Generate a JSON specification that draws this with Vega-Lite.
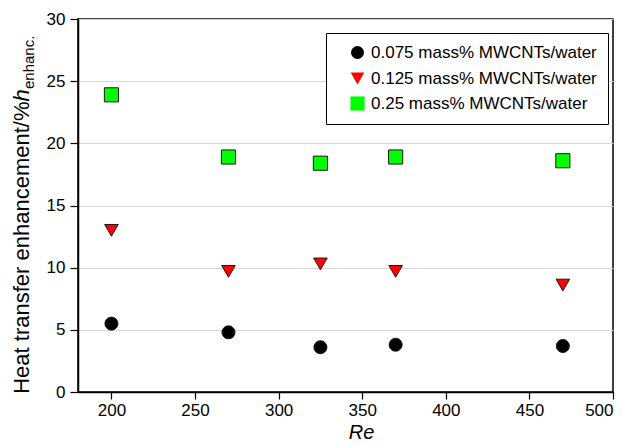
{
  "$schema": "https://vega.github.io/schema/vega-lite/v6.json",
  "width": 535,
  "height": 373,
  "autosize": "none",
  "padding": {"left": 78, "top": 19, "right": 16, "bottom": 54},
  "background": "white",
  "data": {
    "values": [
      {"Re": 200, "series": "0.075 mass% MWCNTs/water", "value": 5.5},
      {"Re": 270, "series": "0.075 mass% MWCNTs/water", "value": 4.8},
      {"Re": 325, "series": "0.075 mass% MWCNTs/water", "value": 3.6},
      {"Re": 370, "series": "0.075 mass% MWCNTs/water", "value": 3.8},
      {"Re": 470, "series": "0.075 mass% MWCNTs/water", "value": 3.7},
      {"Re": 200, "series": "0.125 mass% MWCNTs/water", "value": 13.0},
      {"Re": 270, "series": "0.125 mass% MWCNTs/water", "value": 9.7},
      {"Re": 325, "series": "0.125 mass% MWCNTs/water", "value": 10.3},
      {"Re": 370, "series": "0.125 mass% MWCNTs/water", "value": 9.7},
      {"Re": 470, "series": "0.125 mass% MWCNTs/water", "value": 8.6},
      {"Re": 200, "series": "0.25 mass% MWCNTs/water", "value": 23.9},
      {"Re": 270, "series": "0.25 mass% MWCNTs/water", "value": 18.9},
      {"Re": 325, "series": "0.25 mass% MWCNTs/water", "value": 18.4},
      {"Re": 370, "series": "0.25 mass% MWCNTs/water", "value": 18.9},
      {"Re": 470, "series": "0.25 mass% MWCNTs/water", "value": 18.6}
    ]
  },
  "layer": [
    {
      "mark": {"type": "point", "filled": true, "stroke": "#1a1a1a", "strokeWidth": 1, "opacity": 1},
      "encoding": {
        "x": {
          "field": "Re", "type": "quantitative",
          "scale": {"domain": [180, 500], "nice": false, "zero": false},
          "axis": {
            "title": "Re", "titleFontStyle": "italic", "titleFontSize": 20, "titleFontWeight": "normal",
            "values": [200, 250, 300, 350, 400, 450, 500],
            "labelFontSize": 17, "tickSize": 7, "labelPadding": 3, "grid": false,
            "titleX": 283, "titlePadding": 4
          }
        },
        "y": {
          "field": "value", "type": "quantitative",
          "scale": {"domain": [0, 30], "nice": false},
          "axis": {
            "title": "Heat transfer enhancement/%",
            "values": [0, 5, 10, 15, 20, 25, 30],
            "labelFontSize": 17, "tickSize": 8, "labelPadding": 5,
            "grid": true, "gridColor": "#d6d6d6", "gridWidth": 1.2,
            "titleFontSize": 22, "titleFontWeight": "normal",
            "titleAngle": 270, "titleAlign": "right", "titleBaseline": "alphabetic",
            "titleX": -50, "titleY": 82
          }
        },
        "color": {
          "field": "series", "type": "nominal",
          "scale": {"domain": ["0.075 mass% MWCNTs/water", "0.125 mass% MWCNTs/water", "0.25 mass% MWCNTs/water"], "range": ["#000000", "#ff0000", "#00ff00"]},
          "legend": {"legendX": 248, "legendY": 14}
        },
        "shape": {
          "field": "series", "type": "nominal",
          "scale": {"domain": ["0.075 mass% MWCNTs/water", "0.125 mass% MWCNTs/water", "0.25 mass% MWCNTs/water"], "range": ["circle", "triangle-down", "square"]},
          "legend": {"legendX": 248, "legendY": 14}
        },
        "size": {
          "field": "series", "type": "nominal",
          "scale": {"domain": ["0.075 mass% MWCNTs/water", "0.125 mass% MWCNTs/water", "0.25 mass% MWCNTs/water"], "range": [170, 200, 121]},
          "legend": null
        }
      }
    },
    {
      "mark": {"type": "point", "opacity": 0},
      "encoding": {
        "x": {"field": "Re", "type": "quantitative"},
        "y": {
          "field": "value", "type": "quantitative",
          "scale": {"domain": [0, 30], "nice": false},
          "axis": {
            "orient": "left", "title": "h", "titleFontStyle": "italic", "titleFontSize": 22, "titleFontWeight": "normal",
            "labels": false, "ticks": false, "domain": false, "grid": false,
            "titleAngle": 270, "titleAlign": "left", "titleBaseline": "alphabetic",
            "titleX": -50, "titleY": 82
          }
        }
      }
    },
    {
      "mark": {"type": "point", "opacity": 0},
      "encoding": {
        "x": {"field": "Re", "type": "quantitative"},
        "y": {
          "field": "value", "type": "quantitative",
          "scale": {"domain": [0, 30], "nice": false},
          "axis": {
            "orient": "left", "title": "enhanc.", "titleFontSize": 15, "titleFontWeight": "normal",
            "labels": false, "ticks": false, "domain": false, "grid": false,
            "titleAngle": 270, "titleAlign": "left", "titleBaseline": "alphabetic",
            "titleX": -45, "titleY": 69.5
          }
        }
      }
    }
  ],
  "resolve": {"scale": {"y": "independent"}},
  "config": {
    "font": "Liberation Sans",
    "view": {"stroke": "#000000", "strokeWidth": 1.5},
    "axis": {
      "domainColor": "#000000", "domainWidth": 1.5, "tickColor": "#000000", "tickWidth": 1.2,
      "labelColor": "#000000", "titleColor": "#000000", "labelFont": "Liberation Sans", "titleFont": "Liberation Sans"
    },
    "legend": {
      "orient": "none", "title": null,
      "labelFontSize": 17, "labelColor": "#000000", "labelFont": "Liberation Sans", "labelLimit": 400,
      "strokeColor": "#000000", "fillColor": "#ffffff", "padding": 11,
      "symbolOffset": 12, "labelOffset": 5, "rowPadding": 7,
      "symbolSize": 150, "symbolStrokeWidth": 1, "symbolStrokeColor": "#1a1a1a", "symbolOpacity": 1
    }
  }
}
